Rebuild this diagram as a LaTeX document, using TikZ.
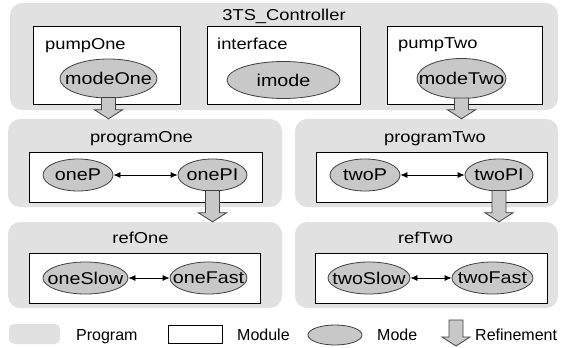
\documentclass[tikz,border=0pt]{standalone}
\usepackage{fontspec}
\setmainfont{Liberation Sans}[FakeStretch=1.16]
\newfontfamily\legendfont{Liberation Sans}
\usetikzlibrary{shapes.geometric, arrows.meta, calc}
\definecolor{ProgGray}{HTML}{E1E1E1}
\definecolor{ModeGray}{HTML}{C8C8C8}
\definecolor{EdgeGray}{HTML}{404040}
\tikzset{
    % Grey program areas
    program/.style={
        rectangle,
        rounded corners=12pt,
        fill=ProgGray,
        draw=none,
        inner sep=0pt
    },
    module/.style={
        rectangle,
        draw=black,
        fill=white,
        line width=0.8pt,
        inner sep=0pt
    },
    mode/.style={
        ellipse,
        draw=EdgeGray,
        fill=ModeGray,
        line width=0.8pt,
        inner sep=0pt,
        font=\fontsize{17}{20}\selectfont
    },
    title/.style={
        inner sep=0pt,
        font=\fontsize{15.8}{19}\selectfont
    },
    legend text/.style={
        inner sep=0pt,
        anchor=base west,
        font=\legendfont\fontsize{16}{19}\selectfont
    },
    arrow style/.style={
        <->,
        >={Latex[length=7pt,width=6pt]},
        line width=0.8pt,
        black
    },
    refine style/.style={
        draw=EdgeGray,
        fill=ModeGray,
        line width=0.8pt,
        line join=miter
    }
}
\newcommand{\zerow}[1]{\makebox[0pt]{#1}}
\newcommand{\refinearrow}[2]{%
    \path[refine style] let \p1=(#1), \p2=(#2) in
        (\x1-7pt,\y1) -- (\x1+7pt,\y1) -- (\x1+7pt,\y2+9pt) -- (\x1+14pt,\y2+9pt)
        -- (\x1,\y2) -- (\x1-14pt,\y2+9pt) -- (\x1-7pt,\y2+9pt) -- cycle;
}

\begin{document}
\begin{tikzpicture}[x=1pt, y=-1pt]
        \useasboundingbox (0,0) rectangle (565,348);

        % Top program
        \node[program, minimum width=548pt, minimum height=107pt] (ctrl) at (284,56.5) {};
        \node[title, anchor=base] (ctrlT) at (284,20.5) {3TS\_Controller};

        \node[module, minimum width=147pt, minimum height=78pt] (pumpOne) at (106.5,65) {};
        \node[module, minimum width=153pt, minimum height=78pt] (interface) at (283.5,65) {};
        \node[module, minimum width=155pt, minimum height=78pt] (pumpTwo) at (464.5,65) {};
        \node[title, anchor=base west] (pumpOneT) at (45,49) {pumpOne};
        \node[title, anchor=base west] (interfaceT) at (217,49) {interface};
        \node[title, anchor=base west] (pumpTwoT) at (398,48.5) {pumpTwo};

        \node[mode, minimum width=97pt, minimum height=39pt] (modeOne) at (108.5,78.5) {\zerow{modeOne}};
        \node[mode, minimum width=113pt, minimum height=37pt] (imode) at (283.5,80) {\zerow{imode}};
        \node[mode, minimum width=89pt, minimum height=40pt] (modeTwo) at (461.5,78.5) {\zerow{modeTwo}};

        % programOne
        \node[program, minimum width=274pt, minimum height=88pt] (progOne) at (145,163) {};
        \node[title, anchor=base] (progOneT) at (141.5,142) {programOne};
        \node[module, minimum width=233pt, minimum height=50pt] (progOneM) at (145.5,177) {};
        \node[mode, minimum width=70pt, minimum height=32pt] (oneP) at (78,175) {\zerow{oneP}};
        \node[mode, minimum width=69pt, minimum height=32pt] (onePI) at (212.5,175) {\zerow{onePI}};

        % programTwo
        \node[program, minimum width=263pt, minimum height=88pt] (progTwo) at (426.5,163) {};
        \node[title, anchor=base] (progTwoT) at (435,142) {programTwo};
        \node[module, minimum width=231pt, minimum height=50pt] (progTwoM) at (431.5,177) {};
        \node[mode, minimum width=70pt, minimum height=32pt] (twoP) at (365,175) {\zerow{twoP}};
        \node[mode, minimum width=68pt, minimum height=32pt] (twoPI) at (499,175) {\zerow{twoPI}};

        % refOne
        \node[program, minimum width=274pt, minimum height=86pt] (refOne) at (145,265) {};
        \node[title, anchor=base] (refOneT) at (140.5,243) {refOne};
        \node[module, minimum width=231pt, minimum height=50pt] (refOneM) at (144.5,278) {};
        \node[mode, minimum width=85pt, minimum height=32pt] (oneSlow) at (85.5,278) {\zerow{oneSlow}};
        \node[mode, minimum width=77pt, minimum height=32pt] (oneFast) at (208.5,278) {\zerow{oneFast}};

        % refTwo
        \node[program, minimum width=263pt, minimum height=86pt] (refTwo) at (426.5,265) {};
        \node[title, anchor=base] (refTwoT) at (425.5,243) {refTwo};
        \node[module, minimum width=232pt, minimum height=50pt] (refTwoM) at (431,278) {};
        \node[mode, minimum width=82pt, minimum height=32pt] (twoSlow) at (369,278) {\zerow{twoSlow}};
        \node[mode, minimum width=81pt, minimum height=32pt] (twoFast) at (492.5,278) {\zerow{twoFast}};

        % Arrows
        \draw[arrow style] (oneP) -- (onePI);
        \draw[arrow style] (twoP) -- (twoPI);
        \draw[arrow style] (oneSlow) -- (oneFast);
        \draw[arrow style] (twoSlow) -- (twoFast);

        % Refinements
        \refinearrow{[yshift=1pt]modeOne.south}{progOne.north}
        \refinearrow{[yshift=1pt]modeTwo.south}{progTwo.north}
        \refinearrow{[yshift=1pt]onePI.south}{refOne.north}
        \refinearrow{[yshift=1pt]twoPI.south}{refTwo.north}

        % Legend
        \node[program, rounded corners=5pt, minimum width=51pt, minimum height=20pt] (legProg) at (34.5,334) {};
        \node[legend text] (legProgT) at (76,340.5) {Program};
        \node[module, minimum width=54pt, minimum height=18pt] (legMod) at (195,334) {};
        \node[legend text] (legModT) at (237,340.5) {Module};
        \node[mode, minimum width=54pt, minimum height=20pt] (legMode) at (335,335) {};
        \node[legend text] (legModeT) at (377,340.5) {Mode};
        \coordinate (legTop) at (456,320);
        \coordinate (legTip) at (456,346);
        \refinearrow{legTop}{legTip}
        \node[legend text] (legRefT) at (475,340.5) {Refinement};
    \end{tikzpicture}
\end{document}
